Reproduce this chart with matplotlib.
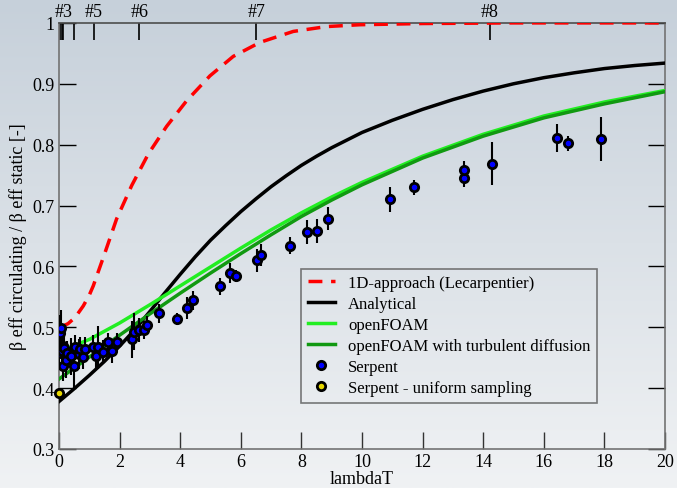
import numpy as np
import matplotlib.pyplot as plt
from matplotlib.colors import LinearSegmentedColormap

plt.rcParams['font.family'] = ['Liberation Serif', 'DejaVu Serif']

# 1D-approach (Lecarpentier)
lam_1d = [0.05, 0.3, 0.53, 0.8, 1.0, 1.13, 1.3, 1.52, 1.9, 2.4, 2.95, 3.55, 4.21,
          4.98, 5.75, 6.63, 7.73, 8.83, 9.93, 12.0, 15.0, 20.0]
beta_1d = [0.500, 0.506, 0.516, 0.535, 0.553, 0.568, 0.592, 0.623, 0.678, 0.733,
           0.785, 0.830, 0.872, 0.913, 0.945, 0.968, 0.986, 0.994, 0.997, 0.999,
           1.0, 1.0]

# analytical model
lam_an = [0, 0.5, 1, 1.5, 2, 2.5, 3, 3.5, 4, 4.5, 5, 5.5, 6, 6.5, 7, 7.5, 8, 8.5,
          9, 10, 11, 12, 13, 14, 15, 16, 17, 18, 19, 20]
beta_an = [0.378, 0.399, 0.421, 0.444, 0.469, 0.496, 0.526, 0.557, 0.587, 0.616,
           0.643, 0.667, 0.690, 0.711, 0.731, 0.749, 0.766, 0.781, 0.795, 0.820,
           0.840, 0.858, 0.874, 0.888, 0.900, 0.910, 0.918, 0.925, 0.930, 0.934]

# openFOAM runs
lam_of = [0, 1, 2, 3, 4, 5, 6, 7, 8, 9, 10, 12, 14, 16, 18, 20]
beta_of = [0.460, 0.480, 0.507, 0.537, 0.568, 0.599, 0.630, 0.660, 0.688, 0.714,
           0.738, 0.781, 0.817, 0.847, 0.870, 0.889]
beta_of_turb = [0.415, 0.451, 0.487, 0.522, 0.556, 0.589, 0.621, 0.652, 0.682,
                0.709, 0.734, 0.778, 0.814, 0.844, 0.867, 0.887]

# Serpent results
lam_serp = [0.01, 0.03, 0.05, 0.10, 0.12, 0.14, 0.17, 0.23, 0.25, 0.39, 0.48, 0.52,
            0.66, 0.69, 0.80, 0.86, 1.13, 1.22, 1.30, 1.44, 1.60, 1.74, 1.92, 2.41,
            2.49, 2.64, 2.81, 2.89, 3.31, 3.88, 4.23, 4.43, 5.30, 5.64, 5.83, 6.52,
            6.65, 7.61, 8.17, 8.50, 8.89, 10.92, 11.72, 13.37, 13.38, 14.28, 16.45,
            16.81, 17.89]
beta_serp = [0.458, 0.490, 0.498, 0.461, 0.469, 0.436, 0.466, 0.446, 0.458, 0.452,
             0.436, 0.467, 0.456, 0.464, 0.451, 0.464, 0.467, 0.453, 0.467, 0.459,
             0.476, 0.461, 0.476, 0.480, 0.493, 0.496, 0.496, 0.504, 0.523, 0.514,
             0.531, 0.544, 0.567, 0.589, 0.584, 0.610, 0.619, 0.634, 0.657, 0.658,
             0.678, 0.710, 0.730, 0.746, 0.758, 0.769, 0.811, 0.802, 0.809]
err_serp = [0.025, 0.030, 0.030, 0.030, 0.025, 0.025, 0.020, 0.030, 0.020, 0.030,
            0.035, 0.020, 0.025, 0.020, 0.020, 0.020, 0.020, 0.020, 0.035, 0.020,
            0.015, 0.020, 0.015, 0.030, 0.030, 0.020, 0.015, 0.015, 0.016, 0.010,
            0.018, 0.016, 0.014, 0.016, 0.010, 0.019, 0.018, 0.014, 0.020, 0.020,
            0.019, 0.020, 0.012, 0.015, 0.015, 0.036, 0.023, 0.012, 0.036]

lam_unif = [0.0]
beta_unif = [0.392]

# experiment numbers on the top axis
exp_pos = [0.04, 0.09, 0.14, 0.49, 1.14, 2.65, 6.51, 14.22]
exp_lab = ['', '', '#3', '', '#5', '#6', '#7', '#8']
exp_col = ['k', 'k', 'k', 'k', '0.55', '0.55', '0.55', 'k']

fig = plt.figure(figsize=(6.77, 4.89), dpi=100)

# background gradient
bg = fig.add_axes([0, 0, 1, 1], zorder=-10)
cmap = LinearSegmentedColormap.from_list('bg', ['#c6d0da', '#f0f2f4'])
bg.imshow(np.linspace(0, 1, 256).reshape(-1, 1), aspect='auto', cmap=cmap,
          extent=[0, 1, 0, 1])
bg.axis('off')

ax = fig.add_axes([0.0872, 0.0798, 0.8951, 0.8713])
ax.patch.set_alpha(0)

h1, = ax.plot(lam_1d, beta_1d, color='#ff0000', lw=2.5, ls=(0, (4, 2.5)),
              label='1D-approach (Lecarpentier)', zorder=3)
h2, = ax.plot(lam_an, beta_an, color='k', lw=2.5, label='Analytical', zorder=3)
h3, = ax.plot(lam_of, beta_of, color='#22ee22', lw=2.5, label='openFOAM', zorder=3)
h4, = ax.plot(lam_of, beta_of_turb, color='#119911', lw=2.5,
              label='openFOAM with turbulent diffusion', zorder=3)
ax.errorbar(lam_serp, beta_serp, yerr=err_serp, fmt='none', ecolor='k',
            elinewidth=1.5, capsize=0, zorder=4)
h5, = ax.plot(lam_serp, beta_serp, 'o', mfc='#0000ff', mec='k', ms=6, mew=2,
              label='Serpent', zorder=4)
h6, = ax.plot(lam_unif, beta_unif, 'o', mfc='#e8d800', mec='k', ms=6, mew=2,
              label='Serpent - uniform sampling', zorder=5, clip_on=False)

ax.set_xlim(0, 20)
ax.set_ylim(0.3, 1.0)
ax.set_xticks(np.arange(0, 21, 2))
ax.set_yticks(np.round(np.arange(0.3, 1.01, 0.1), 1))
ax.set_yticklabels(['0.3', '0.4', '0.5', '0.6', '0.7', '0.8', '0.9', '1'])
ax.tick_params(direction='in', length=12, width=1, labelsize=13, right=True,
               top=False, pad=4)
ax.tick_params(axis='x', colors='0.2', labelcolor='k', pad=3)
ax.tick_params(axis='y', pad=3)
for s in ax.spines.values():
    s.set_color('0.45')
    s.set_linewidth(1.2)
ax.spines['top'].set_color('0.3')

ax.set_xlabel('lambdaT', fontsize=13, labelpad=0)
ax.set_ylabel('β eff circulating / β eff static [-]', fontsize=13, labelpad=4)

top = ax.secondary_xaxis('top')
top.set_xticks(exp_pos)
top.set_xticklabels(exp_lab)
top.tick_params(direction='in', length=12, width=1.2, labelsize=13, pad=2)
for t, c in zip(top.xaxis.get_ticklines(), exp_col * 2):
    t.set_color(c)
top.spines['top'].set_visible(False)

leg = ax.legend(handles=[h1, h2, h3, h4, h5, h6], loc='lower left',
                bbox_to_anchor=(0.40, 0.108), fontsize=12,
                frameon=True, fancybox=False, edgecolor='0.35',
                borderaxespad=0, handlelength=1.6, handletextpad=0.8,
                labelspacing=0.3, borderpad=0.4)
leg.get_frame().set_facecolor('none')
leg.get_frame().set_linewidth(1.2)

fig.savefig('out.png', dpi=100)
